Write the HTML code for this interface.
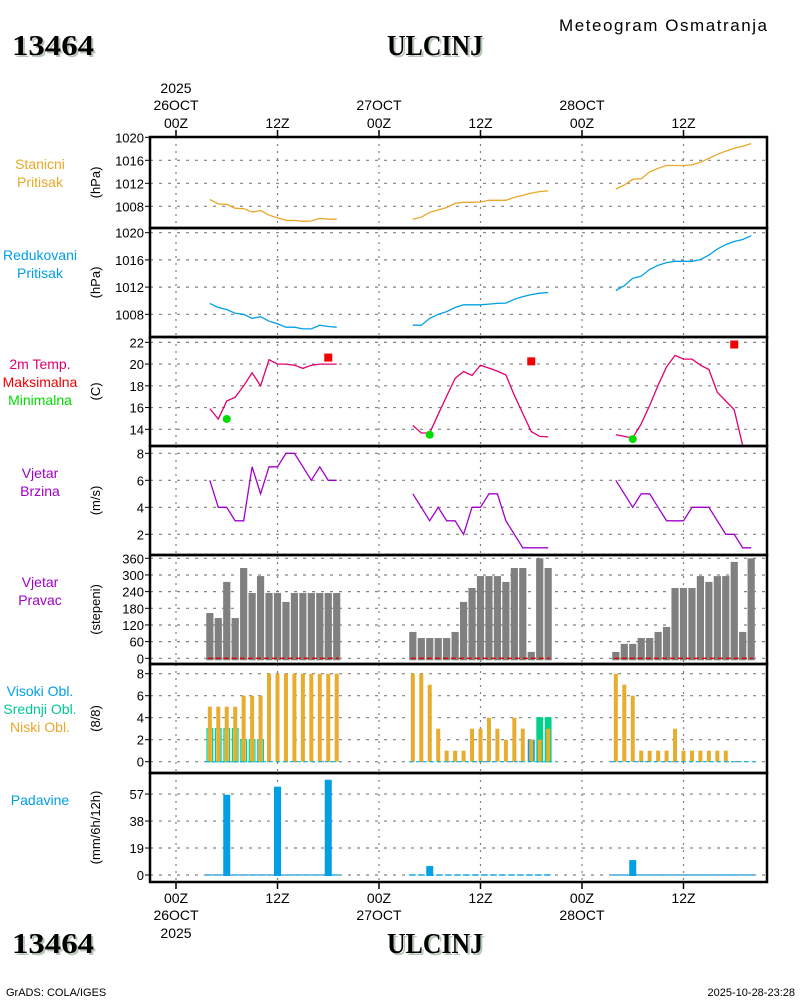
<!DOCTYPE html>
<html><head><meta charset="utf-8"><style>
html,body{margin:0;padding:0;background:#fff;}
svg{display:block;font-family:"Liberation Sans",sans-serif;}
</style></head><body>
<svg id="chart" width="800" height="1000" viewBox="0 0 800 1000" xmlns="http://www.w3.org/2000/svg">
<rect x="0" y="0" width="800" height="1000" fill="#fff"/>
<g>
<text x="14" y="57" font-family="Liberation Serif,serif" font-weight="bold" font-size="28" fill="#b8c8b8" textLength="82" lengthAdjust="spacingAndGlyphs">13464</text>
<text x="12" y="55" font-family="Liberation Serif,serif" font-weight="bold" font-size="28" fill="#000" textLength="82" lengthAdjust="spacingAndGlyphs">13464</text>
<text x="437" y="57" text-anchor="middle" font-family="Liberation Serif,serif" font-weight="bold" font-size="28" fill="#b8c8b8" textLength="96" lengthAdjust="spacingAndGlyphs">ULCINJ</text>
<text x="435" y="55" text-anchor="middle" font-family="Liberation Serif,serif" font-weight="bold" font-size="28" fill="#000" textLength="96" lengthAdjust="spacingAndGlyphs">ULCINJ</text>
<text x="767" y="31" text-anchor="end" font-size="17" fill="#000" textLength="208">Meteogram Osmatranja</text>
</g>
<g>
<text x="14" y="955" font-family="Liberation Serif,serif" font-weight="bold" font-size="28" fill="#b8c8b8" textLength="82" lengthAdjust="spacingAndGlyphs">13464</text>
<text x="12" y="953" font-family="Liberation Serif,serif" font-weight="bold" font-size="28" fill="#000" textLength="82" lengthAdjust="spacingAndGlyphs">13464</text>
<text x="437" y="955" text-anchor="middle" font-family="Liberation Serif,serif" font-weight="bold" font-size="28" fill="#b8c8b8" textLength="96" lengthAdjust="spacingAndGlyphs">ULCINJ</text>
<text x="435" y="953" text-anchor="middle" font-family="Liberation Serif,serif" font-weight="bold" font-size="28" fill="#000" textLength="96" lengthAdjust="spacingAndGlyphs">ULCINJ</text>
<text x="6" y="996" font-size="11" fill="#000">GrADS: COLA/IGES</text>
<text x="795" y="996" text-anchor="end" font-size="11" fill="#000">2025-10-28-23:28</text>
</g>
<g id="plot"></g>
</svg>
<script>
// ---- data ----
var hoursD1 = [4,5,6,7,8,9,10,11,12,13,14,15,16,17,18,19];
var hoursD2 = [28,29,30,31,32,33,34,35,36,37,38,39,40,41,42,43,44];
var hoursD3 = [52,53,54,55,56,57,58,59,60,61,62,63,64,65,66,67,68];
var hoursT3 = [52,53,54,55,56,57,58,59,60,61,62,63,64,65,66,67];
var stnP1 = [1009.2,1008.4,1008.35,1007.65,1007.6,1007.0,1007.25,1006.45,1006.0,1005.55,1005.55,1005.4,1005.45,1005.9,1005.75,1005.75];
var stnP2 = [1005.75,1006.1,1006.95,1007.35,1007.8,1008.5,1008.7,1008.7,1008.75,1009.05,1009.05,1009.05,1009.55,1009.9,1010.3,1010.55,1010.7];
var stnP3 = [1011.0,1011.7,1012.7,1012.8,1014.0,1014.6,1015.1,1015.1,1015.1,1015.2,1015.65,1016.35,1017.05,1017.6,1018.1,1018.45,1018.9];
var redP1 = [1009.6,1009.0,1008.7,1008.15,1008.0,1007.4,1007.65,1006.98,1006.6,1006.1,1006.1,1005.85,1005.85,1006.4,1006.2,1006.1];
var redP2 = [1006.4,1006.4,1007.4,1008.0,1008.4,1009.0,1009.4,1009.4,1009.4,1009.5,1009.6,1009.65,1010.2,1010.6,1010.9,1011.1,1011.2];
var redP3 = [1011.5,1012.2,1013.3,1013.6,1014.6,1015.2,1015.6,1015.8,1015.8,1015.8,1016.05,1016.7,1017.6,1018.25,1018.7,1019.0,1019.56];
var temp1 = [15.9,14.95,16.6,16.95,18.0,19.2,18.0,20.4,20.0,20.0,19.9,19.6,19.9,20.0,20.0,20.0];
var temp2 = [14.37,13.66,13.66,15.38,17.05,18.68,19.32,18.95,19.9,19.63,19.35,19.0,17.14,15.45,13.8,13.35,13.3];
var temp3 = [13.5,13.35,13.2,14.5,16.2,18.06,19.75,20.8,20.46,20.46,19.9,19.5,17.4,16.6,15.8,12.5];
var maxHours = [18,42,66];
var maxTemps = [20.6,20.25,21.8];
var minHours = [6,30,54];
var minTemps = [14.95,13.5,13.1];
var wind1 = [6,4,4,3,3,7,5,7,7,8,8,7,6,7,6,6];
var wind2 = [5,4,3,4,3,3,2,4,4,5,5,3,2,1,1,1,1];
var wind3 = [6,5,4,5,5,4,3,3,3,4,4,4,3,2,2,1,1];
var dir1 = [163,145,275,145,325,235,296,235,235,203,235,235,235,235,235,235];
var dir2 = [95,73,73,73,73,95,203,253,296,296,296,275,325,325,23,360,325];
var dir3 = [23,52,52,73,73,95,113,253,253,253,296,275,296,296,347,95,360];
var low1 = [5,5,5,5,6,6,6,8,8,8,8,8,8,8,8,8];
var low2 = [8,8,7,3,1,1,1,3,3,4,3,2,4,3,2,2,3];
var low3 = [8,7,6,1,1,1,1,3,1,1,1,1,1,1,0,0,0];
var mid1 = [3,3,3,3,2,2,2,0,0,0,0,0,0,0,0,0];
var mid2 = [0,0,0,0,0,0,0,0,0,0,0,0,0,0,0,4,4];
var mid3 = [0,0,0,0,0,0,0,0,0,0,0,0,0,0,0,0,0];
var high1 = [0,0,0,0,0,0,0,0,0,0,0,0,0,0,0,0];
var high2 = [0,0,0,0,0,0,0,0,0,0,0,0,0,0,2,0,0];
var high3 = [0,0,0,0,0,0,0,0,0,0,0,0,0,0,0,0,0];
var precipHours = [6,12,18,30,54];
var precipValues = [56.5,62.2,67.1,6.3,10.5];
var xTickHours = [0,12,24,36,48,60];
var xTickLabels = ['00Z','12Z','00Z','12Z','00Z','12Z'];
var dateTickHours = [0,24,48];
var dateTickLabels = ['26OCT','27OCT','28OCT'];
var pTicks = [1008,1012,1016,1020];
var tTicks = [14,16,18,20,22];
var wTicks = [2,4,6,8];
var dTicks = [0,60,120,180,240,300,360];
var cTicks = [0,2,4,6,8];
var rTicks = [0,19,38,57];

// ---- layout ----
var NS = 'http://www.w3.org/2000/svg';
var plot = document.getElementById('plot');
var X0 = 150, X1 = 767;
function xH(h){ return 176 + h * 8.4583; }
var panels = [
 {top:137, bot:228, name:'station-pressure', y:function(v){return 206.3-(v-1008)*5.75;}, ticks:pTicks, title:'(hPa)', labels:[['Stanicni','#e8a828'],['Pritisak','#e8a828']]},
 {top:228, bot:337, name:'reduced-pressure', y:function(v){return 314.3-(v-1008)*6.8;}, ticks:pTicks, title:'(hPa)', labels:[['Redukovani','#00a0e6'],['Pritisak','#00a0e6']]},
 {top:337, bot:446, name:'temperature', y:function(v){return 429.3-(v-14)*10.87;}, ticks:tTicks, title:'(C)', labels:[['2m Temp.','#e0006e'],['Maksimalna','#f00000'],['Minimalna','#00dc00']]},
 {top:446, bot:555, name:'wind-speed', y:function(v){return 534.3-(v-2)*13.5;}, ticks:wTicks, title:'(m/s)', labels:[['Vjetar','#a000c8'],['Brzina','#a000c8']]},
 {top:555, bot:664, name:'wind-direction', y:function(v){return 658.3-v*100/360;}, ticks:dTicks, title:'(stepeni)', labels:[['Vjetar','#a000c8'],['Pravac','#a000c8']]},
 {top:664, bot:773, name:'cloud-cover', y:function(v){return 761.7-v*11;}, ticks:cTicks, title:'(8/8)', labels:[['Visoki Obl.','#00a0e6'],['Srednji Obl.','#00c896'],['Niski Obl.','#e8a828']]},
 {top:773, bot:882, name:'precipitation', y:function(v){return 875-v*1.42;}, ticks:rTicks, title:'(mm/6h/12h)', labels:[['Padavine','#00a0e6']]}
];
function mk(tag, attrs, parent){
  var e = document.createElementNS(NS, tag);
  for (var k in attrs) e.setAttribute(k, attrs[k]);
  (parent||plot).appendChild(e);
  return e;
}
function txt(x,y,s,size,fill,anchor,parent){
  var t = mk('text',{x:x,y:y,'font-size':size,fill:fill,'text-anchor':anchor||'middle'},parent);
  t.textContent = s;
  return t;
}

panels.forEach(function(p){
  var g = mk('g',{});
  
  
  p.g = g;
  xTickHours.forEach(function(h){
    var l = mk('line',{x1:xH(h),x2:xH(h),y1:p.top,y2:p.bot,stroke:'#808080','stroke-width':1.2,'stroke-dasharray':'2,5'},g);
    
    
  });
  p.ticks.forEach(function(v){
    var yy = p.y(v);
    var l = mk('line',{x1:X0,x2:X1,y1:yy,y2:yy,stroke:'#808080','stroke-width':1.2,'stroke-dasharray':'3,6'},g);
    
    
    mk('line',{x1:X0-5,x2:X0,y1:yy,y2:yy,stroke:'#000','stroke-width':1},g);
    var t = txt(X0-6, yy+5, String(v), 13, '#000', 'end', g);
    
    
  });
  var cy = (p.top+p.bot)/2;
  var at = mk('text',{x:0,y:0,'font-size':13,fill:'#000','text-anchor':'middle',transform:'translate(100,'+cy+') rotate(-90)'},g);
  at.textContent = p.title;
  
  
  var start = p.top + 32;
  p.labels.forEach(function(lb,i){
    var t = txt(40, start + i*18, lb[0], 14, lb[1], 'middle', g);
    
    
  });
});

function line(p, hours, vals, color, name){
  var pts = hours.map(function(h,i){ return xH(h).toFixed(1)+','+p.y(vals[i]).toFixed(1); }).join(' ');
  var l = mk('polyline',{points:pts,fill:'none',stroke:color,'stroke-width':1.3,'clip-path':'url(#clip-'+p.name+')'},p.g);
  
  
}
var defs = mk('defs',{});
panels.forEach(function(p){
  var c = mk('clipPath',{id:'clip-'+p.name},defs);
  mk('rect',{x:X0,y:p.top,width:X1-X0,height:p.bot-p.top},c);
});

line(panels[0], hoursD1, stnP1, '#e8a828', 'station-pressure-line');
line(panels[0], hoursD2, stnP2, '#e8a828', 'station-pressure-line');
line(panels[0], hoursD3, stnP3, '#e8a828', 'station-pressure-line');
line(panels[1], hoursD1, redP1, '#00a0e6', 'reduced-pressure-line');
line(panels[1], hoursD2, redP2, '#00a0e6', 'reduced-pressure-line');
line(panels[1], hoursD3, redP3, '#00a0e6', 'reduced-pressure-line');
line(panels[2], hoursD1, temp1, '#e0006e', 'temperature-line');
line(panels[2], hoursD2, temp2, '#e0006e', 'temperature-line');
line(panels[2], hoursT3, temp3, '#e0006e', 'temperature-line');
maxHours.forEach(function(h,i){
  var r = mk('rect',{x:xH(h)-4,y:panels[2].y(maxTemps[i])-4,width:8,height:8,fill:'#f00000'},panels[2].g);
  
  
});
minHours.forEach(function(h,i){
  var c = mk('circle',{cx:xH(h),cy:panels[2].y(minTemps[i]),r:4,fill:'#00dc00'},panels[2].g);
  
  
});
line(panels[3], hoursD1, wind1, '#a000c8', 'wind-speed-line');
line(panels[3], hoursD2, wind2, '#a000c8', 'wind-speed-line');
line(panels[3], hoursD3, wind3, '#a000c8', 'wind-speed-line');
function dirBars(hours, vals){
  var p = panels[4], y0 = p.y(0);
  hours.forEach(function(h,i){
    var yt = p.y(vals[i]);
    var r = mk('rect',{x:xH(h)-3.6,y:yt,width:7.2,height:(y0+2)-yt,fill:'#808080'},p.g);
    
    
  });
  var l = mk('line',{x1:xH(hours[0])-2,x2:xH(hours[hours.length-1])+2,y1:y0,y2:y0,stroke:'#e00000','stroke-width':1.3,'stroke-dasharray':'5,3'},p.g);
  
  
}
dirBars(hoursD1, dir1); dirBars(hoursD2, dir2); dirBars(hoursD3, dir3);
function cloudBars(hours, high, mid, low){
  var p = panels[5], y0 = p.y(0);
  hours.forEach(function(h,i){
    var x = xH(h);
    if (high[i] > 0){
      var r = mk('rect',{x:x-3.5,y:p.y(high[i]),width:7,height:y0-p.y(high[i]),fill:'#00a0e6'},p.g);
      
      
    }
    if (mid[i] > 0){
      var m = mk('rect',{x:x-2.8,y:p.y(mid[i]),width:5.6,height:y0-p.y(mid[i]),fill:'#fff',stroke:'#00d28c','stroke-width':1.2},p.g);
      if (mid[i] >= 4) m.setAttribute('fill','#00d28c');
      
      
    }
    if (low[i] > 0){
      var o = mk('rect',{x:x-2,y:p.y(low[i]),width:4,height:y0-p.y(low[i]),fill:'#e8ac2e'},p.g);
      
      
    }
  });
  var l = mk('line',{x1:xH(hours[0])-4,x2:xH(hours[hours.length-1])+4,y1:y0,y2:y0,stroke:'#00b4e6','stroke-width':1.2,'stroke-dasharray':'4,3'},p.g);
  
  
}
cloudBars(hoursD1, high1, mid1, low1);
cloudBars(hoursD2, high2, mid2, low2);
cloudBars(hoursD3, high3, mid3, low3);
(function(){
  var p = panels[6], y0 = p.y(0);
  [hoursD1,hoursD2,hoursD3].forEach(function(hs){
    var l = mk('line',{x1:xH(hs[0])-4,x2:xH(hs[hs.length-1])+4,y1:y0,y2:y0,stroke:'#00a0e6','stroke-width':1.3,'stroke-dasharray':'7,2'},p.g);
    
    
  });
  precipHours.forEach(function(h,i){
    var yt = p.y(precipValues[i]);
    var r = mk('rect',{x:xH(h)-3.5,y:yt,width:7,height:y0-yt+1,fill:'#00a0e6'},p.g);
    
    
  });
})();
panels.forEach(function(p){
  var f = mk('rect',{x:X0,y:p.top,width:X1-X0,height:p.bot-p.top,fill:'none',stroke:'#000','stroke-width':2.5});
  
  
});
xTickHours.forEach(function(h,i){
  var x = xH(h);
  mk('line',{x1:x,x2:x,y1:130,y2:137,stroke:'#000','stroke-width':1.5});
  mk('line',{x1:x,x2:x,y1:882,y2:889,stroke:'#000','stroke-width':1.5});
  var t1 = txt(x, 128, xTickLabels[i], 14, '#000');
  
  
  var t2 = txt(x, 903, xTickLabels[i], 14, '#000');
  
  
});
dateTickHours.forEach(function(h,i){
  var x = xH(h);
  var t1 = txt(x, 110, dateTickLabels[i], 14, '#000');
  
  
  var t2 = txt(x, 920, dateTickLabels[i], 14, '#000');
  
  
});
var y1 = txt(xH(0), 93, '2025', 14, '#000');


var y2 = txt(xH(0), 938, '2025', 14, '#000');


</script>
</body></html>
